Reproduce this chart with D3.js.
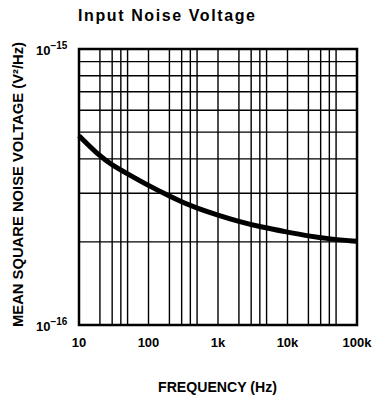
<!DOCTYPE html>
<html><head><meta charset="utf-8">
<script src="https://cdn.jsdelivr.net/npm/d3@7"></script>
<style>html,body{margin:0;padding:0;background:#fff;}svg{display:block;}</style>
</head><body>
<svg id="c" width="372" height="398"></svg>
<script>
const freq = [10, 20, 30, 50, 100, 200, 300, 500, 1000, 2000, 4000, 10000, 20000, 40000, 100000];
const noise = [4.85e-16, 4.08e-16, 3.8e-16, 3.53e-16, 3.2e-16, 2.93e-16, 2.79e-16, 2.65e-16, 2.5e-16, 2.37e-16, 2.27e-16, 2.17e-16, 2.1e-16, 2.05e-16, 2.01e-16];
const xMajor = [10, 100, 1000, 10000, 100000];
const xTickLabels = ["10", "100", "1k", "10k", "100k"];
const xMinor = [20,30,40,50,200,300,400,500,2000,3000,4000,5000,20000,30000,40000,50000];
const yGrid = [2e-16,3e-16,4e-16,5e-16,6e-16,7e-16,8e-16,9e-16];
const yTicks = [1e-16, 1e-15];
const yTickExp = ["−16", "−15"];

const L = 79, R = 357, T = 49, B = 325;
const svg = d3.select("#c");
const x = d3.scaleLog().domain([10, 100000]).range([L, R]);
const y = d3.scaleLog().domain([1e-16, 1e-15]).range([B, T]);
const font = "'Liberation Sans', Arial, sans-serif";

// grid
svg.append("g").selectAll("line").data(xMinor.concat(xMajor.slice(1,-1))).join("line")
  .attr("x1", d => x(d)).attr("x2", d => x(d)).attr("y1", T).attr("y2", B)
  .attr("stroke", "#000").attr("stroke-width", 1.4);
svg.append("g").selectAll("line").data(yGrid).join("line")
  .attr("y1", d => y(d)).attr("y2", d => y(d)).attr("x1", L).attr("x2", R)
  .attr("stroke", "#000").attr("stroke-width", 1.4);
// frame
svg.append("rect").attr("x", L).attr("y", T).attr("width", R - L).attr("height", B - T)
  .attr("fill", "none").attr("stroke", "#000").attr("stroke-width", 2.5);

// curve
const line = d3.line().x((d, i) => x(freq[i])).y(d => y(d)).curve(d3.curveBasis);
svg.append("path").datum(noise).attr("d", line)
  .attr("fill", "none").attr("stroke", "#000").attr("stroke-width", 5).attr("stroke-linecap", "butt");

// x tick labels
svg.append("g").selectAll("text").data(xMajor).join("text")
  .attr("x", d => x(d)).attr("y", 347).attr("text-anchor", "middle")
  .attr("font-family", font).attr("font-weight", "bold").attr("font-size", 13)
  .text((d, i) => xTickLabels[i]);

// y tick labels
const yl = svg.append("g").selectAll("text").data(yTicks).join("text")
  .attr("x", 36).attr("y", d => y(d) + 6)
  .attr("font-family", font).attr("font-weight", "bold").attr("font-size", 13);
yl.append("tspan").text("10");
yl.append("tspan").attr("dy", -6).attr("font-size", 10).text((d, i) => yTickExp[i]);

// title
svg.append("text").attr("x", 78).attr("y", 21)
  .attr("font-family", font).attr("font-weight", "bold").attr("font-size", 16)
  .attr("textLength", 177).text("Input Noise Voltage");

// x axis title
svg.append("text").attr("x", 158).attr("y", 392)
  .attr("font-family", font).attr("font-weight", "bold").attr("font-size", 14)
  .attr("textLength", 119).attr("lengthAdjust", "spacingAndGlyphs").text("FREQUENCY (Hz)");

// y axis title
svg.append("text").attr("transform", "translate(23,327) rotate(-90)")
  .attr("font-family", font).attr("font-weight", "bold").attr("font-size", 15)
  .attr("textLength", 285).attr("lengthAdjust", "spacingAndGlyphs")
  .text("MEAN SQUARE NOISE VOLTAGE (V²/Hz)");
</script>
</body></html>
